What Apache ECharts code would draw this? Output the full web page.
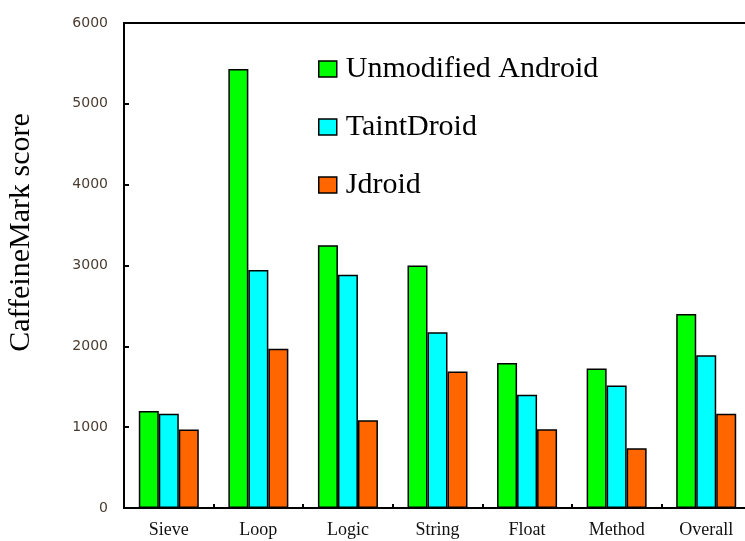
<!DOCTYPE html>
<html><head><meta charset="utf-8">
<script src="https://cdn.jsdelivr.net/npm/echarts@6/dist/echarts.min.js"></script>
<style>html,body{margin:0;padding:0;background:#fff}#c{width:745px;height:541px}</style>
</head><body><div id="c"></div>
<script>
const categories = ['Sieve','Loop','Logic','String','Float','Method','Overall'];
const unmodified = [1200, 5430, 3250, 3000, 1795, 1725, 2400];
const taintDroid = [1165, 2945, 2885, 2175, 1400, 1515, 1890];
const jdroid = [970, 1970, 1085, 1690, 975, 740, 1165];
const yTicks = [0, 1000, 2000, 3000, 4000, 5000, 6000];

const serif = '"Liberation Serif", "Times New Roman", serif';
const chart = echarts.init(document.getElementById('c'));
const barStyle = (c) => ({color: c, borderColor: '#000', borderWidth: 1.5});
chart.setOption({
  animation: false,
  grid: {left: 124, top: 23, width: 627, height: 485, show: true, borderColor: '#000', borderWidth: 2,
    backgroundColor: 'transparent', outerBoundsMode: 'none', containLabel: false},
  legend: {
    orient: 'vertical', left: 318, top: 54, padding: 0, itemWidth: 18, itemHeight: 16, itemGap: 28,
    icon: 'rect',
    itemStyle: {borderColor: '#000', borderWidth: 1.5},
    textStyle: {fontFamily: serif, fontSize: 30, color: '#000', lineHeight: 30, padding: [0,0,0,4]},
    data: ['Unmodified Android', 'TaintDroid', 'Jdroid']
  },
  xAxis: {
    type: 'category', data: categories,
    axisLine: {lineStyle: {color: '#000', width: 2}},
    axisTick: {show: true, inside: true, length: 4, lineStyle: {color: '#000', width: 2}},
    axisLabel: {fontFamily: serif, fontSize: 18, color: '#111', margin: 13}
  },
  yAxis: {
    type: 'value', min: 0, max: 6000, interval: 1000,
    name: 'CaffeineMark score', nameLocation: 'middle', nameGap: 88, nameRotate: 90,
    nameTextStyle: {fontFamily: serif, fontSize: 30, color: '#000', padding: [0, 0, 0, 66]},
    axisLine: {show: true, lineStyle: {color: '#000', width: 2}},
    axisTick: {show: true, inside: true, length: 5, lineStyle: {color: '#000', width: 2}},
    axisLabel: {fontFamily: '"DejaVu Sans", sans-serif', fontSize: 14, color: '#4a3c30', margin: 16,
      formatter: v => yTicks.includes(v) ? String(v) : ''},
    splitLine: {show: false}
  },
  series: [
    {name: 'Unmodified Android', type: 'bar', data: unmodified, barWidth: 20, barGap: '0%', itemStyle: barStyle('#00ff00')},
    {name: 'TaintDroid', type: 'bar', data: taintDroid, barWidth: 20, barGap: '0%', itemStyle: barStyle('#00ffff')},
    {name: 'Jdroid', type: 'bar', data: jdroid, barWidth: 20, barGap: '0%', itemStyle: barStyle('#ff6600')}
  ]
});
</script></body></html>
